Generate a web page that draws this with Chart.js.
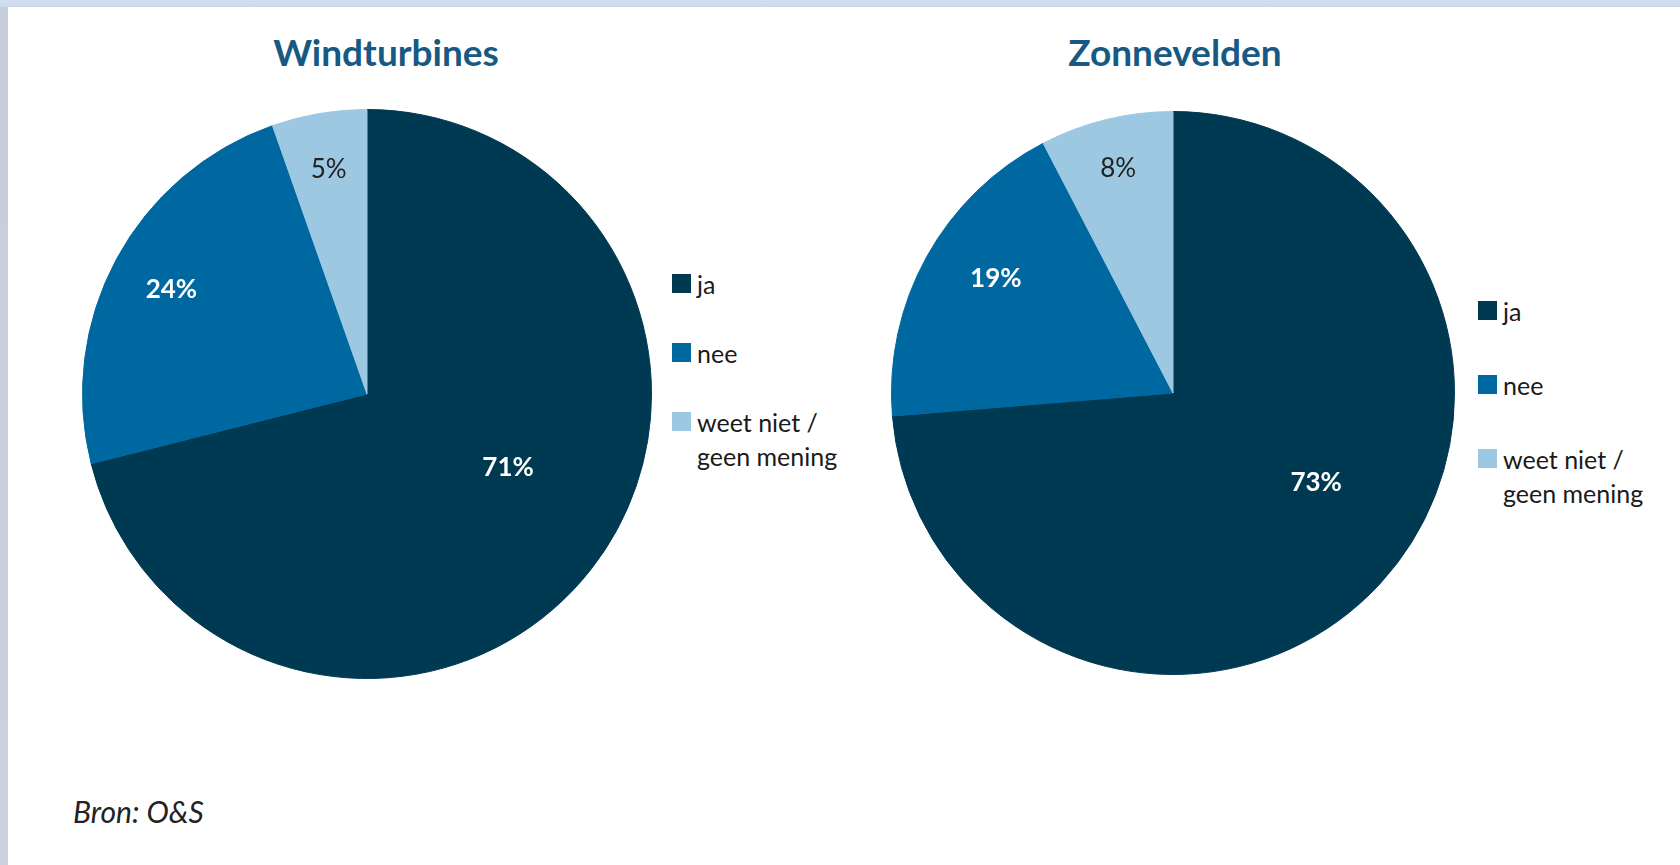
<!DOCTYPE html>
<html>
<head>
<meta charset="utf-8">
<script src="https://cdn.jsdelivr.net/npm/chart.js@4"></script>
<style>
  html, body { margin: 0; padding: 0; }
  body {
    width: 1680px; height: 865px; overflow: hidden; position: relative;
    background: linear-gradient(180deg, #d3def0 0px, #cdd8ea 7px, #c6cedd 7px, #c9d1e0 100%);
    font-family: Lato, "Open Sans", sans-serif;
  }
  #panel { position: absolute; left: 8px; top: 7px; right: 0; bottom: 0; background: #fff; }
  canvas { position: absolute; }
  .title {
    position: absolute; width: 400px; text-align: center;
    font: bold 37px Lato, sans-serif; color: #175982; line-height: 40px;
  }
  .legend-item { position: absolute; display: flex; align-items: flex-start; color: #1a1a1a; font-size: 25px; line-height: 34px; }
  .legend-box { width: 19px; height: 19px; margin-top: 7px; margin-right: 6px; flex: none; }
  #source { position: absolute; left: 73px; top: 793px; font: italic 30px Lato, sans-serif; color: #222; }
</style>
</head>
<body>
<div id="panel"></div>
<div class="title" style="left:186px; top:32px;">Windturbines</div>
<div class="title" style="left:975px; top:32px;">Zonnevelden</div>
<canvas id="windChart" width="570" height="570" style="left:82px; top:109px;"></canvas>
<canvas id="zonChart" width="564" height="564" style="left:891px; top:111px;"></canvas>
<div id="windLegend"></div>
<div id="zonLegend"></div>
<div id="source">Bron: O&amp;S</div>

<script>
// data (percentages)
const categories = ['ja', 'nee', ['weet niet /', 'geen mening']];
const windValues = [71.2, 23.6, 5.4];
const zonValues = [73.4, 18.6, 7.6];

const sliceColors = ['#003a52', '#0068a0', '#9dc8e2'];
const labelColors = ['#ffffff', '#ffffff', '#222222'];

// percentage labels inside the slices, placed from the arc elements
const sliceLabels = {
  id: 'sliceLabels',
  afterDatasetsDraw(chart, args, opts) {
    const ctx = chart.ctx;
    const meta = chart.getDatasetMeta(0);
    const values = chart.data.datasets[0].data;
    meta.data.forEach((arc, i) => {
      const p = arc.getProps(['x', 'y', 'startAngle', 'endAngle', 'outerRadius']);
      const frac = opts.fracs[i];
      const rf = opts.radii[i];
      const a = p.startAngle + (p.endAngle - p.startAngle) * frac;
      const x = p.x + Math.cos(a) * p.outerRadius * rf;
      const y = p.y + Math.sin(a) * p.outerRadius * rf;
      ctx.save();
      ctx.fillStyle = labelColors[i];
      ctx.font = (i < 2 ? 'bold ' : '') + '26px Lato, sans-serif';
      ctx.textAlign = 'center';
      ctx.textBaseline = 'middle';
      ctx.fillText(Math.round(values[i]) + '%', x, y);
      ctx.restore();
    });
  }
};

function makePie(canvasId, values, fracs, radii) {
  return new Chart(document.getElementById(canvasId), {
    type: 'pie',
    data: {
      labels: categories,
      datasets: [{
        data: values,
        backgroundColor: sliceColors,
        borderColor: sliceColors,
        borderWidth: 1
      }]
    },
    options: {
      responsive: false,
      animation: false,
      layout: { padding: 0 },
      plugins: {
        legend: { display: false },
        tooltip: { enabled: false },
        sliceLabels: { fracs: fracs, radii: radii }
      }
    },
    plugins: [sliceLabels]
  });
}

// legend built from the chart's own labels and colours
function buildLegend(chart, holderId, left, firstCenter, gap) {
  const holder = document.getElementById(holderId);
  chart.data.labels.forEach((label, i) => {
    const item = document.createElement('div');
    item.className = 'legend-item';
    item.style.left = left + 'px';
    item.style.top = (firstCenter + gap * i - 17) + 'px';
    const box = document.createElement('span');
    box.className = 'legend-box';
    box.style.background = chart.data.datasets[0].backgroundColor[i];
    const text = document.createElement('span');
    text.innerHTML = Array.isArray(label) ? label.join('<br>') : label;
    item.appendChild(box);
    item.appendChild(text);
    holder.appendChild(item);
  });
}

const windChart = makePie('windChart', windValues, [0.46, 0.5, 0.5], [0.56, 0.78, 0.8]);
const zonChart = makePie('zonChart', zonValues, [0.46, 0.56, 0.5], [0.6, 0.75, 0.82]);
buildLegend(windChart, 'windLegend', 672, 284, 69);
buildLegend(zonChart, 'zonLegend', 1478, 311, 74);
</script>
</body>
</html>
